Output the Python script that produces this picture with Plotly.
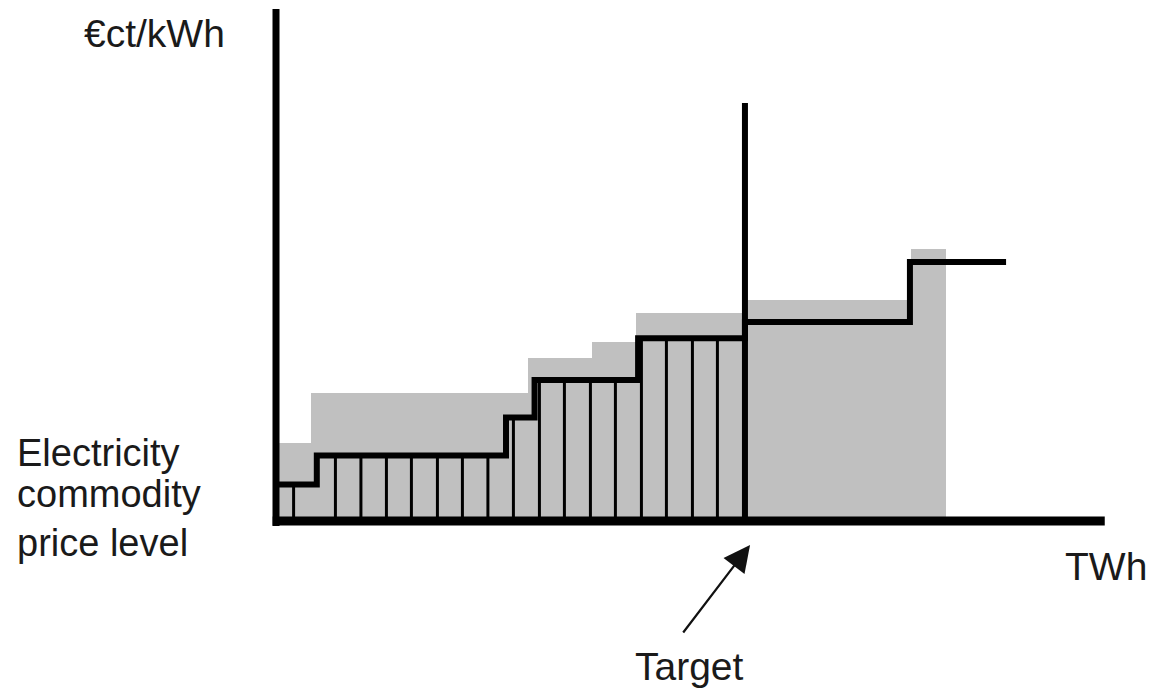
import plotly.graph_objects as go

# ---- data (schematic units: x in TWh, y in €ct/kWh) ----
# grey "offer" staircase: segment boundaries and heights
grey_edges = [0, 1.37, 9.88, 12.39, 14.12, 18.39, 24.90, 26.27]
grey_levels = [3.9, 6.4, 8.15, 8.95, 10.4, 11.05, 13.6]

# black price staircase: segment boundaries and levels
step_edges = [0, 1.60, 9.02, 10.14, 14.20, 18.39, 24.86, 28.63]
step_levels = [1.83, 3.28, 5.17, 7.05, 9.14, 9.95, 12.95]

# thin vertical dividers of the individual volumes (left of the target)
dividers = [0.69, 2.33, 3.33, 4.33, 5.31, 6.33, 7.31, 8.31, 9.31, 10.33,
            11.31, 12.33, 13.31, 14.33, 15.31, 16.33, 17.31]

target_x = 18.39
target_top = 20.9
y_axis_top = 25.6
x_axis_end = 32.5

FONT = "Liberation Sans, Arial, sans-serif"
GREY = "#C0C0C0"

fig = go.Figure()

# grey bars
centers = [(a + b) / 2 for a, b in zip(grey_edges[:-1], grey_edges[1:])]
widths = [b - a for a, b in zip(grey_edges[:-1], grey_edges[1:])]
fig.add_trace(go.Bar(x=centers, y=grey_levels, width=widths,
                     marker=dict(color=GREY, line=dict(width=0)),
                     hoverinfo="skip", showlegend=False))


def level_at(x):
    for a, b, lv in zip(step_edges[:-1], step_edges[1:], step_levels):
        if a <= x < b:
            return lv
    return step_levels[-1]


# dividers
dx, dy = [], []
for d in dividers:
    dx += [d, d, None]
    dy += [0, level_at(d), None]
fig.add_trace(go.Scatter(x=dx, y=dy, mode="lines",
                         line=dict(color="black", width=3),
                         hoverinfo="skip", showlegend=False))

# black staircase
fig.add_trace(go.Scatter(x=step_edges, y=step_levels + [step_levels[-1]],
                         mode="lines", line=dict(color="black", width=6, shape="hv"),
                         hoverinfo="skip", showlegend=False))

# target line
fig.add_trace(go.Scatter(x=[target_x, target_x], y=[0, target_top], mode="lines",
                         line=dict(color="black", width=6),
                         hoverinfo="skip", showlegend=False))

# axes
fig.add_trace(go.Scatter(x=[0, 0], y=[-0.25, y_axis_top], mode="lines",
                         line=dict(color="black", width=7),
                         hoverinfo="skip", showlegend=False))
fig.add_trace(go.Scatter(x=[-0.13, x_axis_end], y=[0, 0], mode="lines",
                         line=dict(color="black", width=9),
                         hoverinfo="skip", showlegend=False))

W, H = 1152, 689


def px(xp):
    return xp / W


def py(yp):
    return 1 - yp / H


anns = [
    dict(text="€ct/kWh", x=px(82), y=py(33.5), size=39),
    dict(text="Electricity", x=px(15), y=py(453), size=38),
    dict(text="commodity", x=px(15), y=py(494), size=38),
    dict(text="price level", x=px(15), y=py(543), size=38),
    dict(text="TWh", x=px(1063), y=py(566), size=39),
    dict(text="Target", x=px(633), y=py(666), size=39),
]
for a in anns:
    fig.add_annotation(text=a["text"], x=a["x"], y=a["y"], xref="paper", yref="paper",
                       xanchor="left", yanchor="middle", showarrow=False,
                       font=dict(family=FONT, size=a["size"], color="#1a1a1a"))

# arrow pointing to the target
fig.add_annotation(x=target_x + 0.2, y=-1.2, xref="x", yref="y", text="",
                   showarrow=True, ax=-68, ay=89, arrowhead=2, arrowsize=2.4,
                   arrowwidth=2.2, arrowcolor="#111111", standoff=0)

# data ranges chosen so that the origin sits where the reference has it
XU, YU = 25.5, 20.0  # pixels per data unit
x0_px, y0_px = 276, 521
fig.update_layout(
    width=W, height=H,
    margin=dict(l=0, r=0, t=0, b=0),
    paper_bgcolor="white", plot_bgcolor="white",
    xaxis=dict(range=[-x0_px / XU, (W - x0_px) / XU],
               visible=False, fixedrange=True),
    yaxis=dict(range=[(y0_px - H) / YU, y0_px / YU],
               visible=False, fixedrange=True),
    showlegend=False,
    bargap=0,
)

fig.write_html(
    "out.html",
    config={"displayModeBar": False},
    post_script="document.body.style.margin='0';document.body.style.overflow='hidden';",
)
